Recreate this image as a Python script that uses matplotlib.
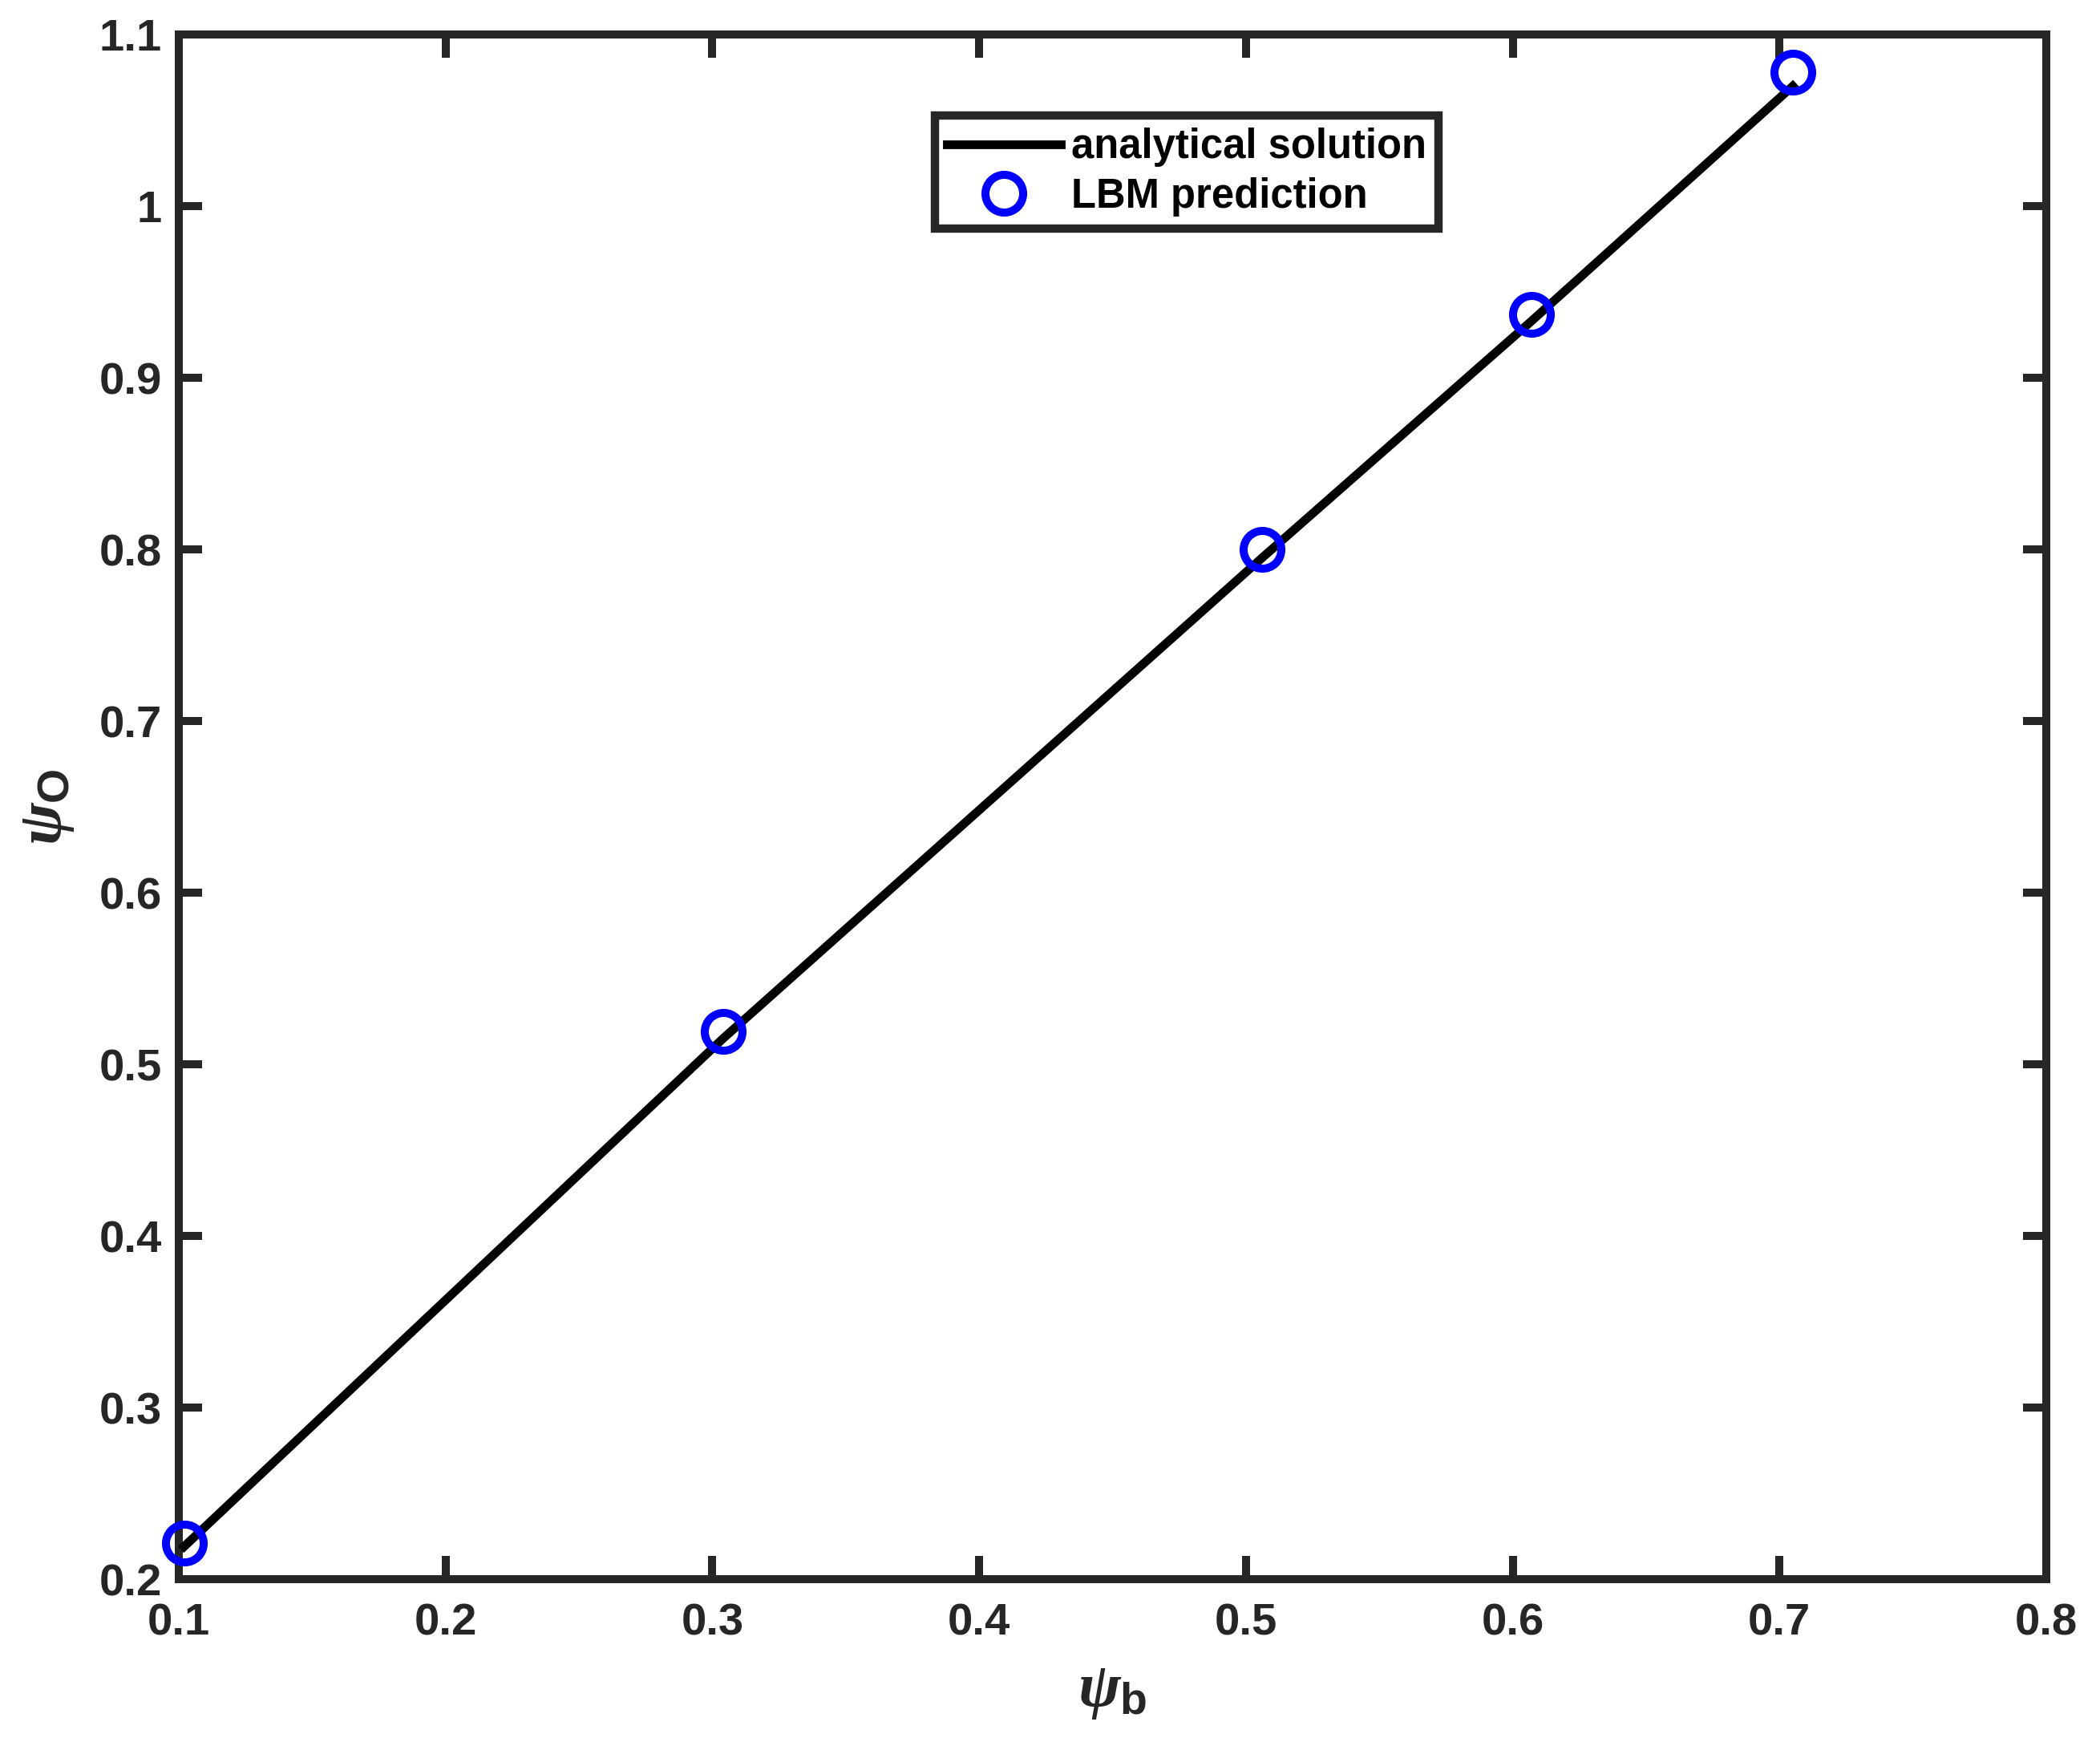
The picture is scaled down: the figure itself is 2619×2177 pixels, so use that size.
import matplotlib
matplotlib.use("Agg")
import matplotlib.pyplot as plt

# LBM prediction
psi_b_lbm = [0.102, 0.304, 0.506, 0.607, 0.705]
psi_o_lbm = [0.221, 0.519, 0.800, 0.937, 1.078]

# analytical solution
psi_b_ana = [0.102, 0.304, 0.506, 0.607, 0.705]
psi_o_ana = [0.219, 0.515, 0.795, 0.933, 1.070]

x_ticks = [0.1, 0.2, 0.3, 0.4, 0.5, 0.6, 0.7, 0.8]
y_ticks = [0.2, 0.3, 0.4, 0.5, 0.6, 0.7, 0.8, 0.9, 1.0, 1.1]
y_tick_labels = ['0.2', '0.3', '0.4', '0.5', '0.6', '0.7', '0.8', '0.9', '1', '1.1']

DARK = '#262626'

plt.rcParams['font.family'] = ['Liberation Sans', 'DejaVu Sans']
plt.rcParams['font.weight'] = 'bold'
plt.rcParams['mathtext.fontset'] = 'custom'
plt.rcParams['mathtext.it'] = 'Liberation Serif:italic'
plt.rcParams['mathtext.rm'] = 'Liberation Sans:bold'
plt.rcParams['mathtext.sf'] = 'Liberation Sans:bold'

fig = plt.figure(figsize=(2619 / 300, 2177 / 300), dpi=300)
ax = fig.add_axes([0.0851, 0.0955, 0.8893, 0.8847])

ax.plot(psi_b_ana, psi_o_ana, color='black', lw=2.6, label='analytical solution',
        zorder=2)
ax.plot(psi_b_lbm, psi_o_lbm, ls='none', marker='o', ms=11.3, mfc='none',
        mec='#0000ff', mew=2.4, label='LBM prediction', zorder=3, clip_on=False)

ax.set_xlim(0.1, 0.8)
ax.set_ylim(0.2, 1.1)
ax.set_xticks(x_ticks)
ax.set_xticklabels([f'{v:g}' for v in x_ticks])
ax.set_yticks(y_ticks)
ax.set_yticklabels(y_tick_labels)

for sp in ax.spines.values():
    sp.set_linewidth(2.4)
    sp.set_color(DARK)
    sp.set_zorder(1)

ax.tick_params(direction='in', length=7, width=2.4, color=DARK,
               labelcolor=DARK, labelsize=13.5, top=True, right=True)
ax.tick_params(axis='x', pad=7)
ax.tick_params(axis='y', pad=5)
for lab in ax.get_xticklabels() + ax.get_yticklabels():
    lab.set_fontweight('bold')

ax.set_xlabel(r'$\psi_{\mathrm{b}}$', fontsize=19, color=DARK, labelpad=5)
ax.set_ylabel(r'$\psi_{\mathrm{O}}$', fontsize=19, color=DARK, labelpad=7)

leg = ax.legend(loc='upper center', bbox_to_anchor=(0.5397, 0.9475), borderaxespad=0,
                fontsize=12.2, handlelength=2.8, handletextpad=0.24,
                labelspacing=0.25, borderpad=0.3, fancybox=False,
                framealpha=1, edgecolor=DARK)
leg.get_frame().set_linewidth(2.5)
for t in leg.get_texts():
    t.set_fontweight('bold')
    t.set_color('black')

fig.savefig('out.png', dpi=300, facecolor='white')
